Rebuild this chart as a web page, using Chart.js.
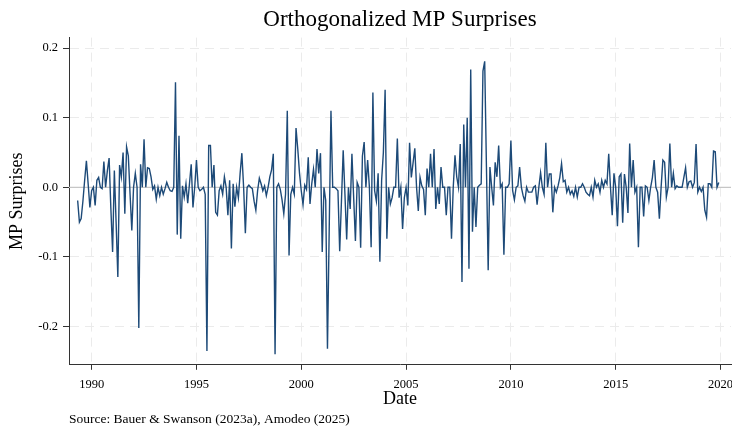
<!DOCTYPE html>
<html>
<head>
<meta charset="utf-8">
<script src="https://cdn.jsdelivr.net/npm/chart.js@4.4.0/dist/chart.umd.min.js"></script>
<style>
  html, body { margin: 0; padding: 0; background: #fff; }
  #cadre { width: 732px; height: 428px; }
</style>
</head>
<body>
<div id="cadre"><canvas id="graphique-mp" width="732" height="428"></canvas></div>
<script>
// Premier mois de la série : mai 1989, puis un point par mois jusqu'à déc. 2019
const startYear = 1989;
const startMonth = 5;

// Chocs MP orthogonalisés
const surprises = [
  // 1989m5 - 1992m12
  -0.019, -0.05, -0.045, -0.02, 0.01, 0.038, 0.005, -0.029, -0.005, 0.0,
  -0.026, 0.01, 0.014, 0.0, -0.002, 0.037, 0.0, 0.024, 0.042, -0.03,
  -0.093, 0.024, -0.05, -0.129, 0.032, 0.015, 0.05, -0.038, 0.058, 0.045,
  -0.01, -0.062, 0.0, 0.02, 0.0, -0.202, 0.033, 0.0, 0.069, 0.0,
  0.028, 0.027, 0.015, -0.003,
  // 1993m1 - 1996m9
  0.002, -0.017, 0.0, -0.012, 0.0, -0.01, -0.002, 0.007, 0.0, -0.005,
  -0.006, 0.0, 0.151, -0.068, 0.074, -0.074, 0.002, -0.014, 0.005, -0.023,
  0.005, 0.033, -0.029, 0.0, 0.039, 0.0, -0.005, -0.003, 0.0, -0.01,
  -0.235, 0.06, 0.06, 0.0, 0.032, -0.036, -0.04, -0.005, 0.002, -0.01,
  0.015, 0.0, -0.04, 0.01, -0.088,
  // 1996m10 - 2000m5
  0.005, -0.028, 0.0, -0.015, 0.02, 0.049, 0.0, -0.066, 0.0, 0.003,
  0.0, -0.002, -0.02, -0.033, -0.005, 0.013, 0.005, -0.005, 0.002, -0.012,
  0.0, 0.015, 0.025, 0.048, -0.24, 0.0, 0.005, -0.003, -0.018, -0.038,
  -0.01, 0.11, -0.098, -0.01, 0.0, -0.01, 0.085, 0.055, 0.02, -0.005,
  -0.025, 0.003, -0.003, 0.043,
  // 2000m6 - 2004m2
  -0.024, 0.005, 0.026, 0.0, 0.055, 0.02, 0.049, -0.093, 0.0, -0.019,
  -0.232, -0.06, 0.11, 0.0, 0.0, -0.002, -0.005, -0.092, -0.02, 0.053,
  -0.01, -0.075, 0.0, -0.031, 0.048, -0.015, -0.077, 0.007, 0.0, -0.087,
  0.045, 0.065, 0.0, 0.039, 0.0, -0.086, 0.136, -0.005, -0.02, 0.02,
  -0.107, 0.01, 0.05, 0.14, -0.074,
  // 2004m3 - 2008m2
  0.0, -0.024, -0.015, 0.0, 0.0, 0.07, -0.015, 0.0, -0.06, -0.015,
  0.0, -0.026, 0.064, 0.014, 0.035, 0.056, 0.0, -0.034, 0.014, 0.002,
  -0.003, -0.04, 0.027, 0.0, 0.048, 0.0, 0.055, -0.031, 0.0, -0.024,
  0.029, 0.0, 0.0, -0.04, 0.0, 0.0, -0.074, 0.0, 0.046, 0.015,
  0.0, 0.062, -0.136, 0.09, 0.0, 0.1, -0.117, 0.169,
  // 2008m3 - 2012m1
  -0.064, 0.0, -0.057, 0.0, 0.003, 0.005, 0.167, 0.181, 0.03, -0.119,
  0.029, 0.0, -0.026, 0.036, 0.015, 0.06, 0.0, 0.005, -0.097, 0.0,
  0.0, 0.005, 0.067, -0.005, -0.018, 0.0, 0.002, 0.029, 0.0, -0.012,
  -0.02, 0.0, -0.007, -0.007, -0.007, 0.0, 0.002, -0.025, 0.0, 0.021,
  0.0, -0.01, 0.064, 0.0, 0.019, 0.019, -0.036,
  // 2012m2 - 2015m7
  0.0, -0.007, 0.002, 0.014, 0.034, 0.008, 0.01, -0.007, 0.0, -0.01,
  -0.005, -0.013, 0.0, -0.014, 0.0, 0.0, 0.005, 0.0, -0.007, -0.01,
  -0.012, 0.0, -0.014, 0.01, 0.0, 0.005, -0.007, 0.01, 0.0, 0.01,
  0.005, 0.048, 0.0, -0.04, 0.02, 0.0, -0.056, 0.015, 0.019, -0.051,
  0.019, 0.0,
  // 2015m8 - 2019m12
  -0.037, 0.063, 0.0, 0.039, -0.007, 0.0, -0.086, 0.0, 0.0, -0.042,
  0.002, 0.0, -0.019, 0.0, 0.014, 0.039, 0.0, -0.007, -0.045, 0.0,
  0.039, 0.036, -0.014, 0.0, 0.063, 0.0, 0.02, -0.002, 0.002, 0.0,
  0.0, 0.0, 0.014, 0.028, 0.0, 0.008, 0.009, 0.0, 0.007, 0.062,
  -0.007, 0.0, -0.006, 0.0, -0.033, -0.043, 0.005, 0.005, 0.0, 0.052,
  0.051, 0.0, 0.007
];

const xTicks = [1990, 1995, 2000, 2005, 2010, 2015, 2020];
const yTicks = [-0.2, -0.1, 0, 0.1, 0.2];

const serif = "'Liberation Serif', 'DejaVu Serif', serif";
const couleurLigne = '#1d4a78';
const couleurGrille = '#ebebeb';
const couleurAxe = '#333333';

// date décimale de chaque mois
const dates = surprises.map((v, i) => startYear + (startMonth - 1 + i) / 12);
const points = surprises.map((v, i) => ({ x: dates[i], y: v }));

// ligne horizontale à zéro, tracée avec l'échelle y
const ligneZero = {
  id: 'ligneZero',
  beforeDatasetsDraw(chart) {
    const { ctx, chartArea, scales: { y } } = chart;
    const py = y.getPixelForValue(0);
    ctx.save();
    ctx.strokeStyle = '#c6c6c6';
    ctx.lineWidth = 1.3;
    ctx.beginPath();
    ctx.moveTo(chartArea.left, py);
    ctx.lineTo(chartArea.right, py);
    ctx.stroke();
    ctx.restore();
  }
};

const data = {
  datasets: [{
    label: 'MP Surprises',
    data: points,
    borderColor: couleurLigne,
    borderWidth: 1.4,
    pointRadius: 0,
    tension: 0,
    fill: false
  }]
};

const options = {
  responsive: false,
  animation: false,
  devicePixelRatio: 1,
  layout: { padding: { top: 0, left: 0, right: 1, bottom: 0 } },
  plugins: {
    legend: { display: false },
    tooltip: { enabled: false },
    title: {
      display: true,
      fullSize: false,
      text: 'Orthogonalized MP Surprises',
      color: '#000',
      font: { family: serif, size: 23, weight: 'normal' },
      padding: { top: 6, bottom: 4 }
    },
    subtitle: {
      display: true,
      position: 'bottom',
      align: 'start',
      fullSize: false,
      text: 'Source: Bauer & Swanson (2023a), Amodeo (2025)',
      color: '#000',
      font: { family: serif, size: 13.5, weight: 'normal' },
      padding: { top: 2, bottom: 0 }
    }
  },
  scales: {
    x: {
      type: 'linear',
      min: 1988.92,
      max: 2020.5,
      afterBuildTicks: (scale) => { scale.ticks = xTicks.map(v => ({ value: v })); },
      afterFit: (scale) => {
        scale.height = 45;
        scale.paddingLeft = 0;
        scale.paddingRight = 0;
      },
      ticks: {
        autoSkip: false,
        maxRotation: 0,
        color: '#000',
        padding: 7,
        font: { family: serif, size: 12.5 },
        callback: (v) => String(v)
      },
      grid: {
        color: couleurGrille,
        lineWidth: 1,
        tickColor: couleurAxe,
        tickLength: 5,
        tickBorderDash: []
      },
      border: { display: true, color: couleurAxe, width: 1, dash: [9, 6] },
      title: {
        display: true,
        text: 'Date',
        color: '#000',
        font: { family: serif, size: 18 },
        padding: { top: 0, bottom: 0 }
      }
    },
    y: {
      min: -0.255,
      max: 0.215,
      afterBuildTicks: (scale) => { scale.ticks = yTicks.map(v => ({ value: v })); },
      afterFit: (scale) => { scale.width = 69; },
      ticks: {
        color: '#000',
        padding: 5,
        font: { family: serif, size: 12.5 },
        callback: (v) => Number(v).toFixed(1)
      },
      grid: {
        color: couleurGrille,
        lineWidth: 1,
        tickColor: couleurAxe,
        tickLength: 6,
        tickBorderDash: []
      },
      border: { display: true, color: couleurAxe, width: 1, dash: [9, 6] },
      title: {
        display: true,
        text: 'MP Surprises',
        color: '#000',
        font: { family: serif, size: 18 },
        padding: { top: 6, bottom: 0 }
      }
    }
  }
};

const ctx = document.getElementById('graphique-mp').getContext('2d');
const graphique = new Chart(ctx, { type: 'line', data, options, plugins: [ligneZero] });
</script>
</body>
</html>
